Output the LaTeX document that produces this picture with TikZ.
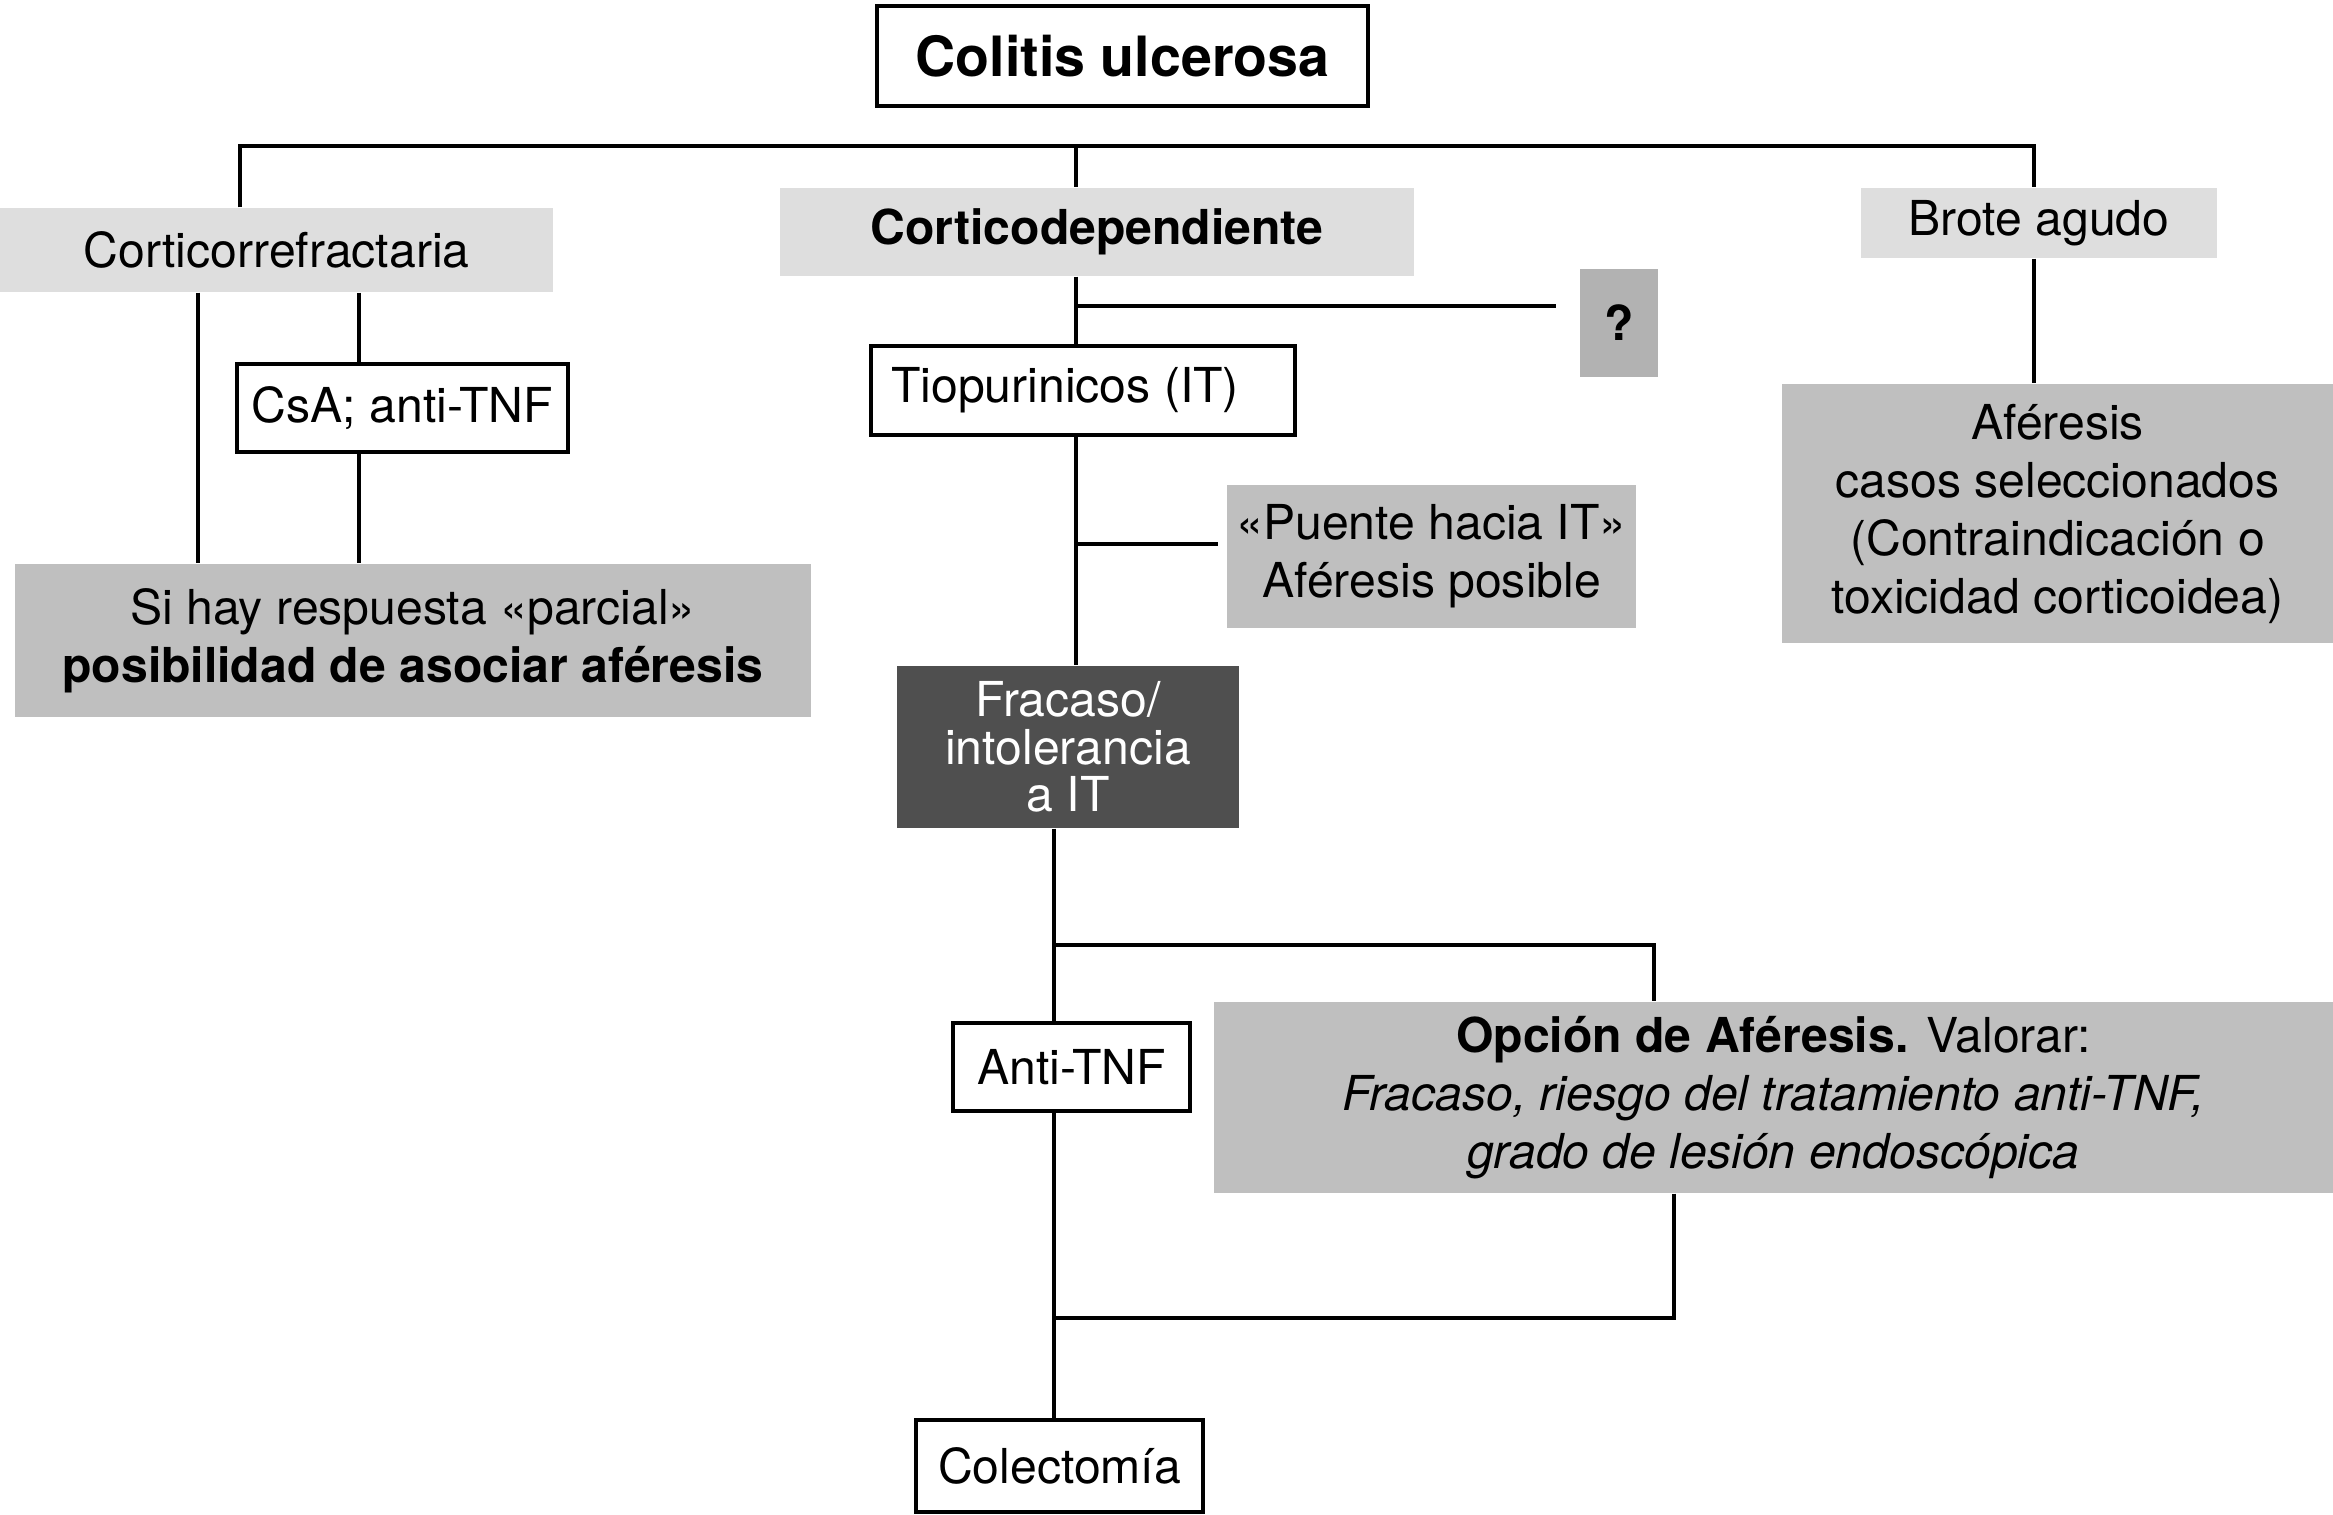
\documentclass[tikz,border=0pt]{standalone}
\usepackage{fontspec}
\setmainfont{TeX Gyre Heros}
\usetikzlibrary{positioning}
\definecolor{lightgrey}{gray}{0.87}
\definecolor{midgrey}{gray}{0.75}
\definecolor{qgrey}{gray}{0.70}
\definecolor{darkgrey}{gray}{0.31}
\newcommand{\boxfont}{\fontsize{13.7}{16.5}\selectfont}
\tikzset{
	whitebox/.style = {draw = black, line width = 1.3pt, fill = white, inner sep = 0pt, align = center},
	lightbox/.style = {fill = lightgrey, inner sep = 0pt, align = center},
	midbox/.style = {fill = midgrey, inner sep = 0pt, align = center},
	darkbox/.style = {fill = darkgrey, text = white, inner sep = 0pt, align = center},
	link/.style = {line width = 1.1pt}
}

\begin{document}
\begin{tikzpicture}[font = \boxfont]

					\useasboundingbox (0,0) rectangle (23.33,15.14);

					% top row
					\node[whitebox, minimum width = 4.91cm, minimum height = 1.0cm, font = \fontsize{15.8}{18}\selectfont\bfseries] (colitis) at (11.225,14.58) {Colitis ulcerosa};
					\node[lightbox, minimum width = 5.53cm, minimum height = 0.84cm] (cref) at (2.765,12.64) {Corticorrefractaria};
					\node[lightbox, minimum width = 6.34cm, minimum height = 0.88cm, font = \boxfont\bfseries] (cdep) at (10.97,12.82) {Corticodependiente};
					\node[lightbox, minimum width = 3.56cm, minimum height = 0.70cm] (brote) at (20.39,12.91) {Brote agudo};

					% left branch
					\node[whitebox, minimum width = 3.31cm, minimum height = 0.88cm] (csa) at (4.025,11.06) {CsA; anti-TNF};
					\node[midbox, minimum width = 7.96cm, minimum height = 1.53cm] (sihay) at (4.13,8.735) {Si hay respuesta «parcial»\\ \textbf{posibilidad de asociar aféresis}};

					% middle branch
					\node[midbox, fill = qgrey, minimum width = 0.78cm, minimum height = 1.08cm, font = \boxfont\bfseries] (q) at (16.19,11.91) {?};
					\node[whitebox, minimum width = 4.24cm, minimum height = 0.89cm] (tio) at (10.83,11.235) {\hspace*{-0.36cm}Tiopurinicos (IT)};
					\node[midbox, minimum width = 4.09cm, minimum height = 1.43cm] (puente) at (14.315,9.575) {«Puente hacia IT»\\ Aféresis posible};
					\node[darkbox, minimum width = 3.42cm, minimum height = 1.62cm, font = \fontsize{13.7}{13.5}\selectfont] (fracaso) at (10.68,7.67) {Fracaso/\\ intolerancia\\ a IT};
					\node[whitebox, minimum width = 2.37cm, minimum height = 0.88cm] (antitnf) at (10.715,4.47) {Anti-TNF};
					\node[midbox, minimum width = 11.19cm, minimum height = 1.91cm] (opcion) at (17.735,4.165) {\textbf{Opción de Aféresis.} Valorar:\\ \textit{Fracaso, riesgo del tratamiento anti-TNF,}\\ \textit{grado de lesión endoscópica}};
					\node[whitebox, minimum width = 2.87cm, minimum height = 0.92cm] (colect) at (10.595,0.48) {Colectomía};

					% right branch
					\node[midbox, minimum width = 5.51cm, minimum height = 2.59cm] (aferesis) at (20.575,10.005) {Aféresis\\ casos seleccionados\\ (Contraindicación o\\ toxicidad corticoidea)};

					% connectors
					\coordinate (barL) at (2.40,13.68);
					\coordinate (barM) at (10.76,13.68);
					\coordinate (barR) at (20.34,13.68);
					\draw[link] (cref.north -| barL) -- (barL) -- (barR) -- (brote.north -| barR);
					\draw[link] (barM) -- (cdep.north -| barM);
					\draw[link] (brote.south -| barR) -- (aferesis.north -| barR);

					\coordinate (cL) at (1.98,12.22);
					\coordinate (cR) at (3.59,12.22);
					\draw[link] (cref.south -| cL) -- (sihay.north -| cL);
					\draw[link] (cref.south -| cR) -- (csa.north -| cR);
					\draw[link] (csa.south -| cR) -- (sihay.north -| cR);

					\coordinate (qend) at (15.56,12.08);
					\coordinate (pend) at (12.18,9.70);
					\draw[link] (cdep.south -| barM) -- (tio.north -| barM);
					\draw[link] (barM |- qend) -- (qend);
					\draw[link] (tio.south -| barM) -- (fracaso.north -| barM);
					\draw[link] (barM |- pend) -- (pend);

					\coordinate (trunk) at (10.54,5.69);
					\coordinate (opcA) at (16.54,5.69);
					\coordinate (opcB) at (16.74,1.96);
					\draw[link] (fracaso.south -| trunk) -- (antitnf.north -| trunk);
					\draw[link] (antitnf.south -| trunk) -- (colect.north -| trunk);
					\draw[link] (trunk) -- (opcA) -- (opcion.north -| opcA);
					\draw[link] (opcion.south -| opcB) -- (opcB) -- (trunk |- opcB);

\end{tikzpicture}
\end{document}
